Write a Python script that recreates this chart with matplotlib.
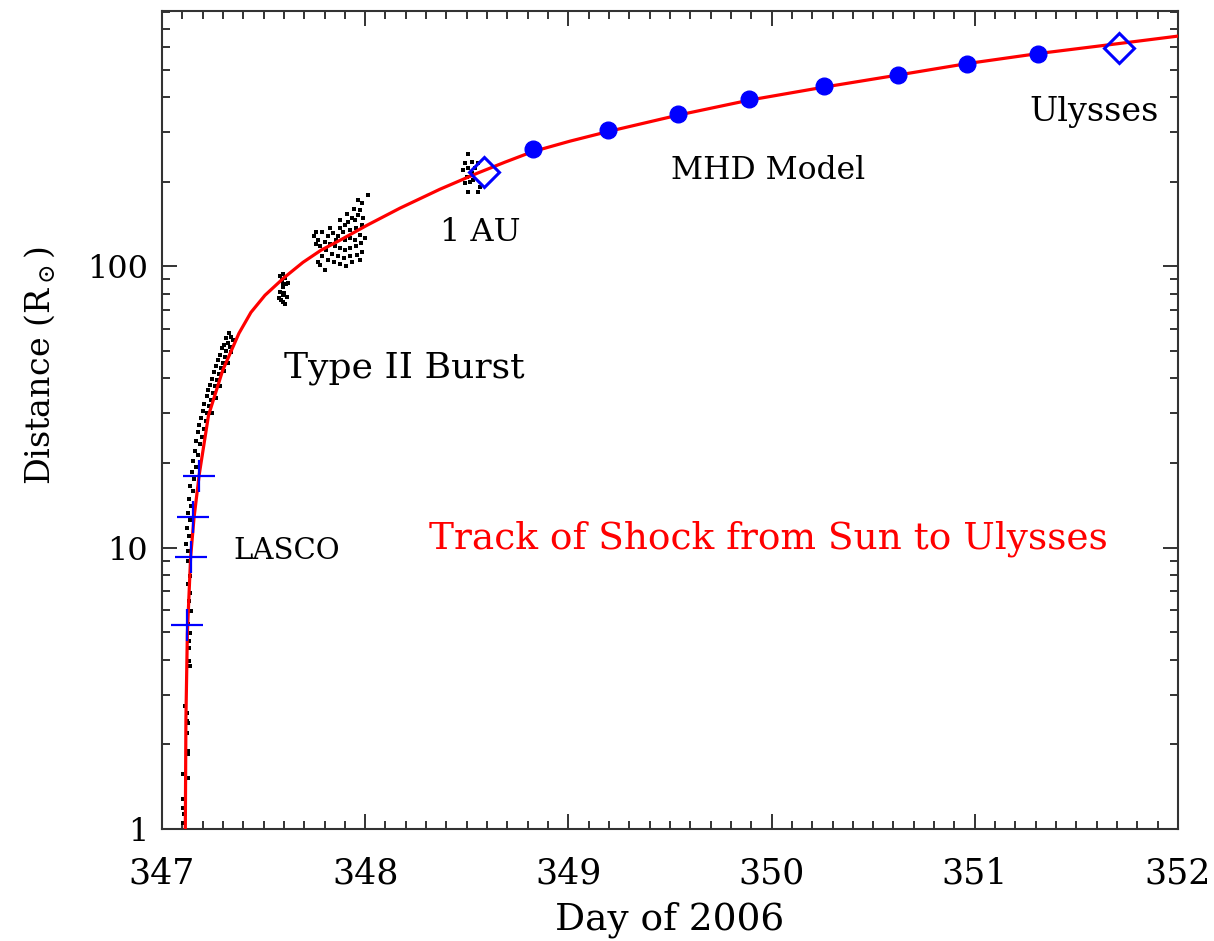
import numpy as np
import matplotlib
matplotlib.use("Agg")
import matplotlib.pyplot as plt
from matplotlib.ticker import FixedLocator, LogLocator, NullFormatter, MultipleLocator

plt.rcParams['font.family'] = ['DejaVu Serif']
plt.rcParams['mathtext.fontset'] = 'dejavuserif'

# Type II burst points (day, distance in solar radii)
burst_low_day = [347.129, 347.138, 347.129, 347.138, 347.134, 347.141, 347.129, 347.138, 347.134,
                 347.133, 347.133, 347.138, 347.113, 347.125, 347.125, 347.129, 347.125, 347.129,
                 347.127, 347.105, 347.129, 347.105, 347.102, 347.108, 347.105]
burst_low_dist = [8.99, 7.95, 7.44, 6.92, 6.48, 5.97, 5.36, 4.98, 4.67,
                  4.41, 3.96, 3.80, 2.74, 2.59, 2.42, 2.38, 2.20, 1.90,
                  1.85, 1.57, 1.52, 1.28, 1.19, 1.13, 1.05]

burst_rise_day = [347.330, 347.340, 347.315, 347.349, 347.325, 347.305, 347.335, 347.295, 347.315,
                  347.340, 347.285, 347.310, 347.276, 347.300, 347.325, 347.266, 347.290, 347.256,
                  347.280, 347.305, 347.246, 347.271, 347.236, 347.261, 347.285, 347.226, 347.251,
                  347.221, 347.241, 347.266, 347.207, 347.231, 347.202, 347.221, 347.246, 347.192,
                  347.217, 347.182, 347.207, 347.177, 347.197, 347.167, 347.187, 347.162, 347.177,
                  347.153, 347.167, 347.148, 347.158, 347.138, 347.153, 347.133, 347.143, 347.128,
                  347.138, 347.123, 347.133, 347.118, 347.128]
burst_rise_dist = [57.8, 56.3, 55.4, 54.5, 53.6, 52.4, 51.5, 51.1, 49.8,
                   49.4, 48.2, 47.5, 46.3, 45.5, 45.5, 44.1, 43.4, 42.0,
                   41.3, 42.3, 39.9, 39.3, 38.0, 37.4, 37.7, 36.2, 35.6,
                   34.5, 33.6, 33.9, 32.5, 32.0, 30.7, 30.0, 30.2, 28.8,
                   28.3, 27.2, 26.5, 25.7, 24.8, 24.0, 23.3, 22.1, 21.3,
                   20.4, 19.4, 18.5, 17.6, 16.6, 15.9, 14.9, 14.1, 13.3,
                   12.5, 11.7, 11.0, 10.3, 9.76]

burst_mid_day = [347.597, 347.581, 347.605, 347.589, 347.610, 347.594, 347.597, 347.622,
                 347.581, 347.600, 347.594, 347.617, 347.584, 347.597, 347.605, 347.577]
burst_mid_dist = [94.2, 92.1, 91.2, 89.2, 86.8, 86.3, 84.4, 87.2,
                  81.0, 80.4, 78.9, 77.7, 75.7, 74.6, 73.7, 77.4]

burst_high_day = [348.014, 347.984, 347.974, 347.965, 347.950, 347.935, 347.915, 347.901, 347.876,
                  347.891, 347.925, 347.955, 347.984, 347.974, 347.950, 347.925, 347.901, 347.866,
                  347.842, 347.817, 347.787, 347.758, 347.748, 347.768, 347.802, 347.827, 347.851,
                  347.876, 347.901, 347.925, 347.955, 347.979, 347.984, 347.960, 347.925, 347.896,
                  347.866, 347.837, 347.807, 347.778, 347.758, 347.787, 347.817, 347.846, 347.876,
                  347.906, 347.778, 347.802, 347.768, 347.935, 347.974, 347.999, 347.965, 347.989,
                  347.856, 347.827, 347.876, 347.910, 347.945]
burst_high_dist = [178.9, 167.6, 158.2, 151.9, 145.8, 148.2, 143.4, 139.9, 136.5,
                   132.1, 134.3, 136.5, 139.9, 128.9, 123.8, 125.8, 123.8, 127.9,
                   131.1, 127.9, 132.1, 132.1, 127.9, 123.8, 121.7, 119.8, 117.8,
                   115.9, 114.0, 115.9, 117.8, 120.8, 112.1, 109.4, 108.5, 106.8,
                   108.5, 110.3, 114.0, 117.8, 119.8, 108.5, 105.0, 103.3, 101.6,
                   100.0, 100.8, 96.8, 103.3, 103.3, 105.0, 125.8, 171.7, 148.2,
                   123.8, 136.5, 145.8, 153.2, 159.5]

burst_au_day = [348.507, 348.491, 348.524, 348.483, 348.507, 348.524, 348.500, 348.516,
                348.491, 348.507, 348.557, 348.565, 348.540, 348.557, 348.532]
burst_au_dist = [250.3, 232.1, 234.5, 219.6, 222.7, 213.8, 207.9, 199.5,
                 197.9, 183.8, 183.8, 191.5, 222.7, 232.1, 202.3]

# fitted shock track
fit_day = [347.115, 347.118, 347.125, 347.141, 347.158, 347.184, 347.229, 347.299, 347.379,
           347.438, 347.507, 347.600, 347.694, 347.782, 347.876, 348.009, 348.171, 348.368,
           348.549, 348.688, 348.824, 349.008, 349.193, 349.541, 349.890, 350.259, 350.622,
           350.963, 351.313, 351.711, 352.0]
fit_dist = [1.0, 2.48, 4.94, 9.24, 12.8, 18.3, 29.5, 42.7, 57.8,
            68.6, 78.9, 91.0, 103.3, 114.0, 123.8, 139.9, 160.9, 187.9,
            213.8, 234.5, 255.6, 278.5, 301.0, 344.7, 389.6, 433.5, 478.4,
            525.5, 570.5, 619.3, 658.0]

lasco_day = [347.122, 347.141, 347.154, 347.182]
lasco_dist = [5.32, 9.24, 12.9, 18.0]

mhd_day = [348.824, 349.193, 349.541, 349.890, 350.259, 350.621, 350.963, 351.312]
mhd_dist = [262, 305, 349, 393, 437, 478, 524, 567]

diamond_day = [348.586, 351.711]   # 1 AU, Ulysses
diamond_dist = [217, 595]

fig = plt.figure(figsize=(12.14, 9.41), dpi=100)
ax = fig.add_axes([0.1334, 0.119, 0.8369, 0.8693])

burst_day = burst_low_day + burst_rise_day + burst_mid_day + burst_high_day + burst_au_day
burst_dist = burst_low_dist + burst_rise_dist + burst_mid_dist + burst_high_dist + burst_au_dist
ax.scatter(burst_day, burst_dist, s=7, marker='s', color='black', linewidths=0, zorder=2)

ax.plot(fit_day, fit_dist, color='#ff0000', lw=2.3, zorder=3)

ax.plot(lasco_day, lasco_dist, ls='none', marker='+', ms=23, mew=1.6, color='#0000ff', zorder=4)
ax.plot(mhd_day, mhd_dist, ls='none', marker='o', ms=12, color='#0000ff', zorder=4)
ax.plot(diamond_day, diamond_dist, ls='none', marker='D', ms=15.5, mew=2.2,
        mfc='none', mec='#0000ff', zorder=4)

ax.set_yscale('log')
ax.set_xlim(347, 352)
ax.set_ylim(1, 808)

ax.set_xticks([347, 348, 349, 350, 351, 352])
ax.set_xticklabels(['347', '348', '349', '350', '351', '352'])
ax.xaxis.set_minor_locator(MultipleLocator(0.1))
ax.yaxis.set_major_locator(FixedLocator([1, 10, 100]))
ax.set_yticklabels(['1', '10', '100'])
ax.yaxis.set_minor_locator(LogLocator(base=10, subs=np.arange(2, 10)))
ax.yaxis.set_minor_formatter(NullFormatter())

ax.tick_params(which='both', direction='in', top=True, right=True, color='#333333', width=1.4)
ax.tick_params(which='major', length=10.5)
ax.tick_params(which='minor', length=6)
ax.tick_params(axis='x', which='major', labelsize=25, pad=20)
ax.tick_params(axis='y', which='major', labelsize=23, pad=10)
for sp in ax.spines.values():
    sp.set_linewidth(1.5)
    sp.set_color('#333333')

ax.set_xlabel('Day of 2006', fontsize=27)
ax.xaxis.set_label_coords(0.5, -0.111)
ax.xaxis.label.set_va('center')
ax.set_ylabel('Distance (R$_\\odot$)', fontsize=24)
ax.yaxis.set_label_coords(-0.12, 0.566)
ax.yaxis.label.set_va('center')

ax.text(351.587, 353, 'Ulysses', fontsize=24, ha='center', va='center')
ax.text(349.982, 219.6, 'MHD Model', fontsize=22.6, ha='center', va='center')
ax.text(348.565, 132, '1 AU', fontsize=23, ha='center', va='center')
ax.text(348.191, 43.4, 'Type II Burst', fontsize=26, ha='center', va='center')
ax.text(347.613, 9.76, 'LASCO', fontsize=21, ha='center', va='center')
ax.text(349.982, 10.8, 'Track of Shock from Sun to Ulysses', fontsize=27, color='#ff0000',
        ha='center', va='center')

fig.savefig('out.png', dpi=100)
